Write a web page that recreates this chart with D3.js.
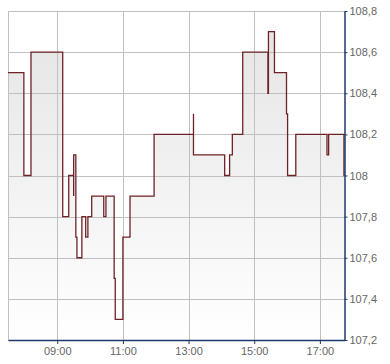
<!DOCTYPE html>
<html>
<head>
<meta charset="utf-8">
<script src="https://cdn.jsdelivr.net/npm/d3@7"></script>
<style>
body{margin:0;background:#fff;}
.axis text{font-family:"Liberation Sans",Arial,sans-serif;font-size:11px;fill:#666;}
</style>
</head>
<body>
<div id="chart"></div>
<script>
// price ticks (time, value), drawn as step-after
var times = ["07:30","07:59","08:12","09:10","09:21","09:30","09:30","09:34","09:36","09:45",
  "09:52","09:56","10:03","10:25","10:29","10:44","10:46","11:00","11:13","11:57",
  "13:09","13:09","14:06","14:15","14:20","14:39","15:25","15:26","15:37","15:59",
  "16:01","16:16","17:13","17:16","17:44","17:45"];
var values = [108.5,108.0,108.6,107.8,108.0,107.9,108.1,107.7,107.6,107.8,
  107.7,107.8,107.9,107.8,107.9,107.5,107.3,107.7,107.9,108.2,
  108.3,108.1,108.0,108.1,108.2,108.6,108.4,108.7,108.5,108.3,
  108.0,108.2,108.1,108.2,108.0,108.0];
var xTickLabels = ["09:00","11:00","13:00","15:00","17:00"];
var yTicks = [107.2,107.4,107.6,107.8,108,108.2,108.4,108.6,108.8];
var xStart = "07:30", xEnd = "17:45";

var width=390, height=364;
var margin={top:11,right:45.5,bottom:24,left:8};
var w=width-margin.left-margin.right, h=height-margin.top-margin.bottom;

var parse=d3.timeParse("%H:%M");
var data=times.map(function(t,i){ return {t:parse(t),v:values[i]}; });

var x=d3.scaleTime().domain([parse(xStart),parse(xEnd)]).range([0,w]);
var y=d3.scaleLinear().domain([107.2,108.8]).range([h,0]);

var svg=d3.select("#chart").append("svg")
  .attr("width",width).attr("height",height);

var grad=svg.append("defs").append("linearGradient")
  .attr("id","fillgrad").attr("gradientUnits","userSpaceOnUse")
  .attr("x1",0).attr("x2",0).attr("y1",0).attr("y2",h);
grad.append("stop").attr("offset","0%").attr("stop-color","#e4e4e4");
grad.append("stop").attr("offset","100%").attr("stop-color","#ffffff");

var g=svg.append("g").attr("transform","translate("+margin.left+","+margin.top+")");

// area under the line
g.append("path").datum(data)
  .attr("fill","url(#fillgrad)")
  .attr("d",d3.area().curve(d3.curveStepAfter)
    .x(function(d){return x(d.t);}).y0(h).y1(function(d){return y(d.v);}));

// grid
g.append("g").selectAll("line").data(yTicks).enter().append("line")
  .attr("x1",0).attr("x2",w)
  .attr("y1",function(d){return Math.round(y(d))+0.5;})
  .attr("y2",function(d){return Math.round(y(d))+0.5;})
  .attr("stroke","#c0c0c0");
var gridX=[parse(xStart)].concat(xTickLabels.map(parse));
g.append("g").selectAll("line").data(gridX).enter().append("line")
  .attr("y1",0).attr("y2",h)
  .attr("x1",function(d){return Math.round(x(d))+0.5;})
  .attr("x2",function(d){return Math.round(x(d))+0.5;})
  .attr("stroke","#c0c0c0");

// price line
g.append("path").datum(data)
  .attr("fill","none")
  .attr("stroke","#6e2228")
  .attr("stroke-width",1.3)
  .attr("d",d3.line().curve(d3.curveStepAfter)
    .x(function(d){return x(d.t);}).y(function(d){return y(d.v);}));

// axes
var xAxis=g.append("g").attr("class","axis")
  .attr("transform","translate(0,"+h+")")
  .call(d3.axisBottom(x).tickValues(xTickLabels.map(parse))
    .tickFormat(d3.timeFormat("%H:%M")).tickSize(4).tickPadding(3).tickSizeOuter(0));
var yAxis=g.append("g").attr("class","axis")
  .attr("transform","translate("+w+",0)")
  .call(d3.axisRight(y).tickValues(yTicks)
    .tickFormat(function(d){return d3.format(".1f")(d).replace(/\.0$/,"").replace(".",",");})
    .tickSize(3).tickPadding(2).tickSizeOuter(0));
[xAxis,yAxis].forEach(function(a){
  a.select(".domain").attr("stroke","#1c3a6e").attr("stroke-width",1.5);
  a.selectAll(".tick line").attr("stroke","#1c3a6e");
});
</script>
</body>
</html>
